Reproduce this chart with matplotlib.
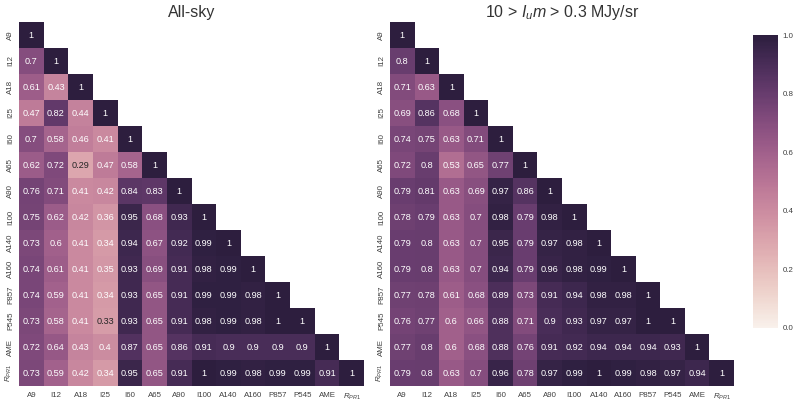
import numpy as np
import matplotlib
matplotlib.use('Agg')
import matplotlib.pyplot as plt
import seaborn as sns

sns.set_style('white')
plt.rcParams['font.family'] = ['Liberation Sans', 'DejaVu Sans']
plt.rcParams['mathtext.fontset'] = 'custom'
plt.rcParams['mathtext.rm'] = 'Liberation Sans'
plt.rcParams['mathtext.it'] = 'Liberation Sans:italic'

labels = ['A9', 'I12', 'A18', 'I25', 'I60', 'A65', 'A90', 'I100', 'A140',
          'A160', 'P857', 'P545', 'AME', '$R_{PR1}$']

# lower triangles, read row by row
allsky_rows = [
    [1],
    [0.7, 1],
    [0.61, 0.43, 1],
    [0.47, 0.82, 0.44, 1],
    [0.7, 0.58, 0.46, 0.41, 1],
    [0.62, 0.72, 0.29, 0.47, 0.58, 1],
    [0.76, 0.71, 0.41, 0.42, 0.84, 0.83, 1],
    [0.75, 0.62, 0.42, 0.36, 0.95, 0.68, 0.93, 1],
    [0.73, 0.6, 0.41, 0.34, 0.94, 0.67, 0.92, 0.99, 1],
    [0.74, 0.61, 0.41, 0.35, 0.93, 0.69, 0.91, 0.98, 0.99, 1],
    [0.74, 0.59, 0.41, 0.34, 0.93, 0.65, 0.91, 0.99, 0.99, 0.98, 1],
    [0.73, 0.58, 0.41, 0.33, 0.93, 0.65, 0.91, 0.98, 0.99, 0.98, 1, 1],
    [0.72, 0.64, 0.43, 0.4, 0.87, 0.65, 0.86, 0.91, 0.9, 0.9, 0.9, 0.9, 1],
    [0.73, 0.59, 0.42, 0.34, 0.95, 0.65, 0.91, 1, 0.99, 0.98, 0.99, 0.99, 0.91, 1],
]

cut_rows = [
    [1],
    [0.8, 1],
    [0.71, 0.63, 1],
    [0.69, 0.86, 0.68, 1],
    [0.74, 0.75, 0.63, 0.71, 1],
    [0.72, 0.8, 0.53, 0.65, 0.77, 1],
    [0.79, 0.81, 0.63, 0.69, 0.97, 0.86, 1],
    [0.78, 0.79, 0.63, 0.7, 0.98, 0.79, 0.98, 1],
    [0.79, 0.8, 0.63, 0.7, 0.95, 0.79, 0.97, 0.98, 1],
    [0.79, 0.8, 0.63, 0.7, 0.94, 0.79, 0.96, 0.98, 0.99, 1],
    [0.77, 0.78, 0.61, 0.68, 0.89, 0.73, 0.91, 0.94, 0.98, 0.98, 1],
    [0.76, 0.77, 0.6, 0.66, 0.88, 0.71, 0.9, 0.93, 0.97, 0.97, 1, 1],
    [0.77, 0.8, 0.6, 0.68, 0.88, 0.76, 0.91, 0.92, 0.94, 0.94, 0.94, 0.93, 1],
    [0.79, 0.8, 0.63, 0.7, 0.96, 0.78, 0.97, 0.99, 1, 0.99, 0.98, 0.97, 0.94, 1],
]


def to_matrix(rows):
    n = len(rows)
    m = np.full((n, n), np.nan)
    for i, row in enumerate(rows):
        m[i, :len(row)] = row
    return m


W, H = 800, 405
cmap = sns.cubehelix_palette(light=.95, as_cmap=True)

fig = plt.figure(figsize=(8, 4.05), dpi=100)
ax1 = fig.add_axes([19/W, 1-386/H, 345/W, 364/H])
ax2 = fig.add_axes([390/W, 1-386/H, 344/W, 364/H])
cax = fig.add_axes([753/W, 1-328/H, 25/W, 293/H])

for ax, rows, title in [(ax1, allsky_rows, 'All-sky'),
                        (ax2, cut_rows, r'10 > $I_um$ > 0.3 MJy/sr')]:
    m = to_matrix(rows)
    sns.heatmap(m, ax=ax, cmap=cmap, vmin=0, vmax=1, annot=True, fmt='.2g',
                annot_kws={'size': 6.6}, cbar=ax is ax1, cbar_ax=cax if ax is ax1 else None,
                xticklabels=labels, yticklabels=labels, mask=np.isnan(m))
    ax.set_title(title, fontsize=11.5, color='.2', pad=3.6)
    ax.tick_params(axis='x', length=0, labelsize=5.7, labelcolor='.25', pad=4.5)
    ax.tick_params(axis='y', length=0, labelsize=5.7, labelcolor='.25', pad=3.5)
    ax.set_xticklabels(labels, rotation=0, style='normal')
    ax.set_yticklabels(labels, rotation=90, va='center', style='normal')

cax.tick_params(length=0, labelsize=5.7, labelcolor='.25', pad=3.5)
cax.set_yticks([0, 0.2, 0.4, 0.6, 0.8, 1.0])

fig.savefig('out.png', dpi=100)
